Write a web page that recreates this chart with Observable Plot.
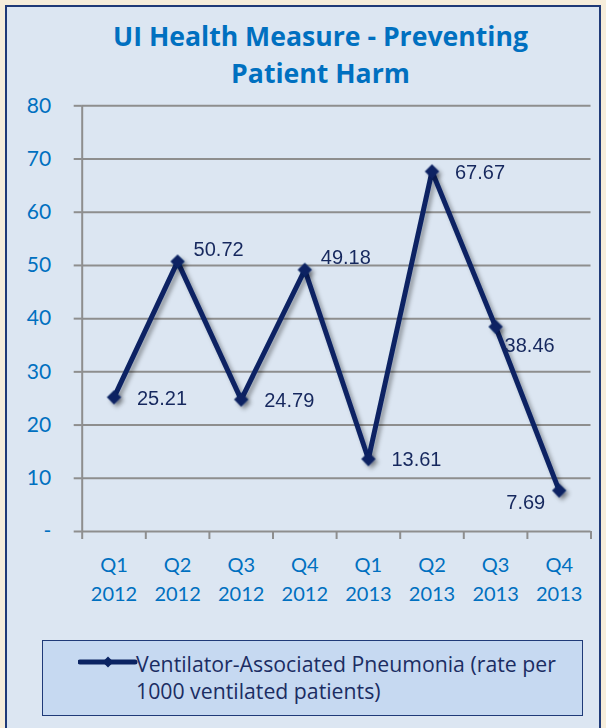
<!DOCTYPE html>
<html>
<head>
<meta charset="utf-8">
<script src="https://cdn.jsdelivr.net/npm/d3@7"></script>
<script src="https://cdn.jsdelivr.net/npm/@observablehq/plot@0.6"></script>
<style>
  html, body { margin: 0; padding: 0; }
  body { width: 606px; height: 728px; background: #f6eddb; position: relative; overflow: hidden; font-family: Lato, "Open Sans", sans-serif; }
  #panel { position: absolute; left: 5px; top: 5px; width: 596px; height: 740px; background: #dce6f2; border: 2px solid #1f3a78; box-sizing: border-box; }
  #title { position: absolute; left: 0; top: 18px; width: 641px; text-align: center; color: #0070c0; font-family: "Open Sans", sans-serif; font-weight: 700; font-size: 25px; line-height: 37px; white-space: nowrap; }
  #chart { position: absolute; left: 0; top: 90px; }
  #legend { position: absolute; left: 42px; top: 640px; width: 541px; height: 76px; box-sizing: border-box; border: 1.5px solid #1f3a78; background: #c6d9f1; }
  #legend .txt { position: absolute; left: 93px; top: 9px; width: 445px; color: #1b2d63; font-family: "Open Sans", sans-serif; font-size: 19px; line-height: 27px; white-space: nowrap; }
  #legend svg { position: absolute; left: 35px; top: 12px; }
</style>
</head>
<body>
<div id="panel"></div>
<div id="title"><span id="t1">UI Health Measure - Preventing</span><br><span id="t2">Patient Harm</span></div>
<div id="chart"></div>
<div id="legend">
  <svg width="60" height="18"><line x1="2" y1="9" x2="57" y2="9" stroke="#0b2463" stroke-width="5" stroke-linecap="round"/><path d="M30,3.5 L35.5,9 L30,14.5 L24.5,9 Z" fill="#0b2463"/></svg>
  <div class="txt"><span id="l1">Ventilator-Associated Pneumonia (rate per</span><br><span id="l2">1000 ventilated patients)</span></div>
</div>
<script>
const quarters = ["Q1", "Q2", "Q3", "Q4", "Q1", "Q2", "Q3", "Q4"];
const years = ["2012", "2012", "2012", "2012", "2013", "2013", "2013", "2013"];
const vapRates = [25.21, 50.72, 24.79, 49.18, 13.61, 67.67, 38.46, 7.69];
const yTicks = [0, 10, 20, 30, 40, 50, 60, 70, 80];
const yTickLabels = ["-", "10", "20", "30", "40", "50", "60", "70", "80"];

// fit text blocks to the reference's measured widths
const ctx = document.createElement("canvas").getContext("2d");
function fitSize(text, weight, family, target) {
  ctx.font = weight + " 100px " + family;
  const w = ctx.measureText(text).width;
  const s = 100 * target / w;
  return (isFinite(s) && s > 10 && s < 40) ? s : null;
}
const ts = fitSize("UI Health Measure - Preventing", "bold", "'Open Sans'", 415);
if (ts) document.getElementById("title").style.fontSize = ts.toFixed(2) + "px";
const ls = fitSize("Ventilator-Associated Pneumonia (rate per", "normal", "'Open Sans'", 420);
if (ls) document.querySelector("#legend .txt").style.fontSize = ls.toFixed(2) + "px";

const data = vapRates.map((v, i) => ({i, v, label: v.toFixed(2), cat: quarters[i] + "\n" + years[i]}));
const bounds = d3.range(quarters.length + 1).map(k => k - 0.5);
const yTickData = yTicks.map((t, k) => ({t, label: yTickLabels[k]}));

const navy = "#0b2463";
const gray = "#8e8e8e";
const labelFont = {fontFamily: "'Liberation Sans', Arial, sans-serif", fontSize: 20, fill: "#16285e"};

const beside = new Set([0, 2, 4, 5]);
const above = new Set([1, 3]);

const plot = Plot.plot({
  width: 606,
  height: 530,
  marginTop: 15.3,
  marginBottom: 89,
  marginLeft: 81.7,
  marginRight: 15.5,
  style: {background: "transparent", overflow: "visible"},
  x: {domain: [-0.5, quarters.length - 0.5], axis: null},
  y: {domain: [0, 80], axis: null},
  marks: [
    Plot.ruleY(yTicks, {y: d => d, stroke: gray, strokeWidth: 2}),
    Plot.axisY(yTicks, {tickSize: 8, tickFormat: () => "", label: null, stroke: gray, strokeWidth: 2}),
    Plot.ruleX([bounds[0]], {x: d => d, stroke: gray, strokeWidth: 2}),
    Plot.axisX(bounds, {tickSize: 8, tickFormat: () => "", label: null, stroke: gray, strokeWidth: 2}),
    Plot.text(yTickData, {x: bounds[0], y: "t", text: "label", textAnchor: "end", dx: -31, fill: "#0070c0", fontSize: 21, fontFamily: "Lato, sans-serif"}),
    Plot.text(data, {x: "i", y: 0, text: "cat", dy: 46, lineHeight: 1.45, fill: "#0070c0", fontSize: 20, fontFamily: "Lato, sans-serif"}),
    Plot.line(data, {x: "i", y: "v", stroke: navy, strokeWidth: 5, strokeLinejoin: "miter"}),
    Plot.dot(data, {x: "i", y: "v", symbol: "diamond2", r: 5.5, fill: navy, stroke: navy}),
    Plot.text(data.filter(d => beside.has(d.i)), {x: "i", y: "v", text: "label", textAnchor: "start", dx: 23, dy: 1, ...labelFont}),
    Plot.text(data.filter(d => above.has(d.i)), {x: "i", y: "v", text: "label", textAnchor: "start", dx: 16, dy: -12, ...labelFont}),
    Plot.text(data.filter(d => d.i === 6), {x: "i", y: "v", text: "label", textAnchor: "start", dx: 9, dy: 19, ...labelFont}),
    Plot.text(data.filter(d => d.i === 7), {x: "i", y: "v", text: "label", textAnchor: "end", dx: -14, dy: 12, ...labelFont})
  ]
});

const svg = d3.select(plot);
const defs = svg.insert("defs", ":first-child");
const f = defs.append("filter").attr("id", "shadow").attr("x", "-20%").attr("y", "-20%").attr("width", "140%").attr("height", "140%");
f.append("feDropShadow").attr("dx", 3).attr("dy", 3).attr("stdDeviation", 2).attr("flood-color", "#000").attr("flood-opacity", 0.35);
svg.selectAll('g[aria-label="line"], g[aria-label="dot"]').attr("filter", "url(#shadow)");

document.getElementById("chart").appendChild(plot);
</script>
</body>
</html>
